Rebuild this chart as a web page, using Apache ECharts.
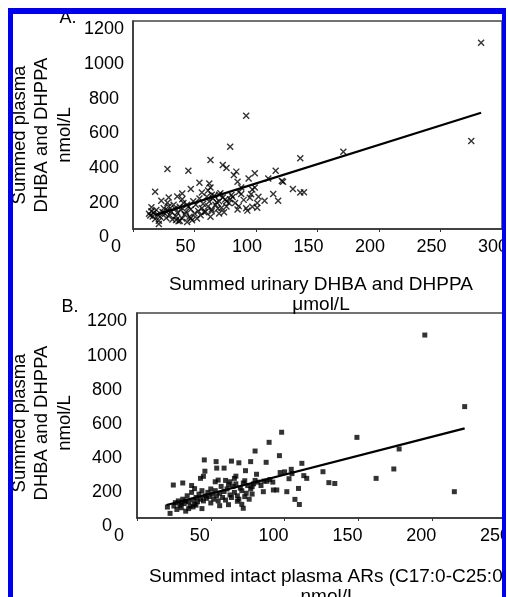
<!DOCTYPE html>
<html>
<head>
<meta charset="utf-8">
<script src="https://cdn.jsdelivr.net/npm/echarts@6/dist/echarts.min.js"></script>
<style>
html,body{margin:0;padding:0;background:#fff;}
#chart{width:508px;height:597px;}
</style>
</head>
<body>
<div id="chart"></div>
<script>
// panel A: urinary DHBA+DHPPA (umol/L) vs plasma DHBA+DHPPA (nmol/L)
var urinaryA = [283,92,275,79,63,28,45,171,136,73,76,84,82,99,116,94,110,122,130,136,139,114,118,107,102,101,101,97,99,97,86,88,85,86,78,79,76,71,70,69,70,63,64,62,63,61,64,54,47,40,36,40,28,29,23,18,15,15,21,
  13,14,16,17,18,19,20,21,22,24,25,26,27,28,29,30,31,32,33,34,35,36,37,38,39,40,41,42,43,44,45,46,47,48,49,50,51,52,53,54,55,56,57,58,59,60,61,62,64,65,66,67,68,70,72,73,74,75,76,80,81,83,88,90,92,93,95,96,35,38,47,44,56,85,121];
var plasmaA = [1075,654,508,475,398,346,336,446,408,369,352,331,312,321,336,292,292,273,231,210,212,202,163,163,186,150,122,129,240,228,213,240,112,132,150,172,160,206,160,118,90,70,102,262,240,222,198,267,231,205,188,172,152,182,163,215,102,125,29,
  88,78,72,94,58,110,84,48,70,98,120,88,64,108,130,80,100,55,140,118,74,94,45,128,110,60,150,84,100,40,128,70,114,50,160,90,140,60,104,176,80,120,145,96,100,186,130,158,112,176,192,140,155,198,122,182,96,170,130,196,184,150,202,168,120,106,180,200,52,48,62,140,210,273,277];
var trendAx = [18, 283];
var trendAy = [80, 671];

// panel B: intact plasma ARs (nmol/L) vs plasma DHBA+DHPPA (nmol/L)
var arsB = [195,222,98,89.5,149,80,177.6,96.5,45.6,53.6,64,69,77,87.5,111.7,54,59,73.5,46,97,100,104.5,126,174,81,43,45,53,55,60,63,66,67,73,80,86,115,113,130,134,162,215,31,37,39,78,85.6,92.4,94.7,101.5,109.4,107,110,24.6,72,22.4,20.6,44,50,56,62,68,71,
  25,26,27,28,29,30,31,32,33,34,35,36,37,38,39,40,41,42,43,44,45,46,47,48,49,50,51,52,53,54,55,56,57,58,59,60,61,62,63,64,65,66,67,68,69,70,71,72,73,74,75,76,77,78,79,82,84,88,90,92,103,105,35,38,30,33,40];
var plasmaB = [1071,652,502,443,472,392,404,365,340,330,333,323,330,326,320,292,292,277,274,266,270,285,271,287,256,232,244,212,222,220,212,232,245,218,220,216,232,248,207,202,232,154,205,190,172,183,154,164,164,154,173,109,79,193,57,27,64,55,88,72,78,98,80,
  70,90,50,100,75,60,110,85,40,130,95,70,150,105,80,120,95,140,110,160,100,130,115,150,125,170,140,110,160,130,100,145,185,120,155,105,170,195,135,120,185,150,200,130,110,175,160,205,125,145,190,110,170,140,200,210,190,215,225,210,230,260,55,65,88,100,75];
var trendBx = [20, 222];
var trendBy = [76, 525];

var xTicksA = {min: 0, max: 300, interval: 50};
var xTicksB = {min: 0, max: 250, interval: 50};
var yTicks = {min: 0, max: 1200, interval: 200};

function pairs(xs, ys){
  return xs.map(function(x, i){ return [x, ys[i]]; });
}

var FONT = '"Liberation Sans", Arial, sans-serif';
var crossSym = 'path://M0 0L10 10M10 0L0 10';

function xAxisOf(ticks, grid, shift, zeroShift){
  return {
    type: 'value', gridIndex: grid, min: ticks.min, max: ticks.max, interval: ticks.interval,
    splitLine: {show: false},
    axisLine: {lineStyle: {color: '#333', width: 1.5}},
    axisTick: {show: true, length: 3, inside: false, lineStyle: {color: '#333'}},
    axisLabel: {
      color: '#000', fontSize: 18, fontFamily: FONT, margin: 9,
      padding: [0, shift, 0, 0],
      formatter: function(v){ return v === 0 ? '{z|0}' : String(v); },
      rich: {z: {fontSize: 18, fontFamily: FONT, color: '#000', padding: [0, zeroShift, 0, 0]}}
    }
  };
}
function yAxisOf(ticks, grid, margin, down){
  return {
    type: 'value', gridIndex: grid, min: ticks.min, max: ticks.max, interval: ticks.interval,
    splitLine: {show: false},
    axisLine: {show: true, lineStyle: {color: '#333', width: 1.5}},
    axisTick: {show: false},
    axisLabel: {color: '#000', fontSize: 18, fontFamily: FONT, margin: margin, align: 'center',
      verticalAlign: 'top', lineHeight: down,
      formatter: function(v){ return String(v); }}
  };
}

var chart = echarts.init(document.getElementById('chart'));
chart.setOption({
  animation: false,
  backgroundColor: '#fff',
  grid: [
    {left: 133, top: 21, width: 369, height: 208, show: true, borderColor: '#444', borderWidth: 1.5, outerBoundsMode: 'none'},
    {left: 137, top: 313, width: 369, height: 205, show: true, borderColor: '#444', borderWidth: 1.5, outerBoundsMode: 'none'}
  ],
  xAxis: [xAxisOf(xTicksA, 0, 18, 16), xAxisOf(xTicksB, 1, 22, 14)],
  yAxis: [yAxisOf(yTicks, 0, 29, 17), yAxisOf(yTicks, 1, 30, 17)],
  series: [
    {type: 'scatter', xAxisIndex: 0, yAxisIndex: 0, data: pairs(urinaryA, plasmaA),
      symbol: crossSym, symbolSize: 6,
      itemStyle: {color: 'none', borderColor: '#000', borderWidth: 1.4}},
    {type: 'line', xAxisIndex: 0, yAxisIndex: 0, data: pairs(trendAx, trendAy),
      symbol: 'none', lineStyle: {color: '#000', width: 2.2}},
    {type: 'scatter', xAxisIndex: 1, yAxisIndex: 1, data: pairs(arsB, plasmaB),
      symbol: 'rect', symbolSize: 5, itemStyle: {color: '#000'}},
    {type: 'line', xAxisIndex: 1, yAxisIndex: 1, data: pairs(trendBx, trendBy),
      symbol: 'none', lineStyle: {color: '#000', width: 2.2}}
  ],
  graphic: [
    {type: 'text', x: 68, y: 18, style: {text: 'A.', font: '18px ' + FONT, fill: '#000', align: 'center', verticalAlign: 'middle'}},
    {type: 'text', x: 70, y: 307, style: {text: 'B.', font: '18px ' + FONT, fill: '#000', align: 'center', verticalAlign: 'middle'}},
    {type: 'text', x: 42, y: 135, rotation: Math.PI / 2,
      style: {text: 'Summed plasma\nDHBA and DHPPA\nnmol/L', font: '18.5px ' + FONT, fill: '#000', align: 'center', verticalAlign: 'middle', lineHeight: 22.5}},
    {type: 'text', x: 42, y: 423, rotation: Math.PI / 2,
      style: {text: 'Summed plasma\nDHBA and DHPPA\nnmol/L', font: '18.5px ' + FONT, fill: '#000', align: 'center', verticalAlign: 'middle', lineHeight: 22.5}},
    {type: 'text', x: 321, y: 295,
      style: {text: 'Summed urinary DHBA and DHPPA\nμmol/L', font: '19px ' + FONT, fill: '#000', align: 'center', verticalAlign: 'middle', lineHeight: 20}},
    {type: 'text', x: 329, y: 587,
      style: {text: 'Summed intact plasma ARs (C17:0-C25:0)\nnmol/L', font: '19px ' + FONT, fill: '#000', align: 'center', verticalAlign: 'middle', lineHeight: 20}},
    // blue frame
    {type: 'rect', z: 100, shape: {x: 506, y: 0, width: 2, height: 597}, style: {fill: '#fff'}},
    {type: 'rect', z: 100, shape: {x: 8, y: 8, width: 5, height: 597}, style: {fill: '#0000f0'}},
    {type: 'rect', z: 100, shape: {x: 8, y: 8, width: 498, height: 6}, style: {fill: '#0000f0'}},
    {type: 'rect', z: 100, shape: {x: 502, y: 8, width: 4, height: 597}, style: {fill: '#0000f0'}}
  ]
});
</script>
</body>
</html>
